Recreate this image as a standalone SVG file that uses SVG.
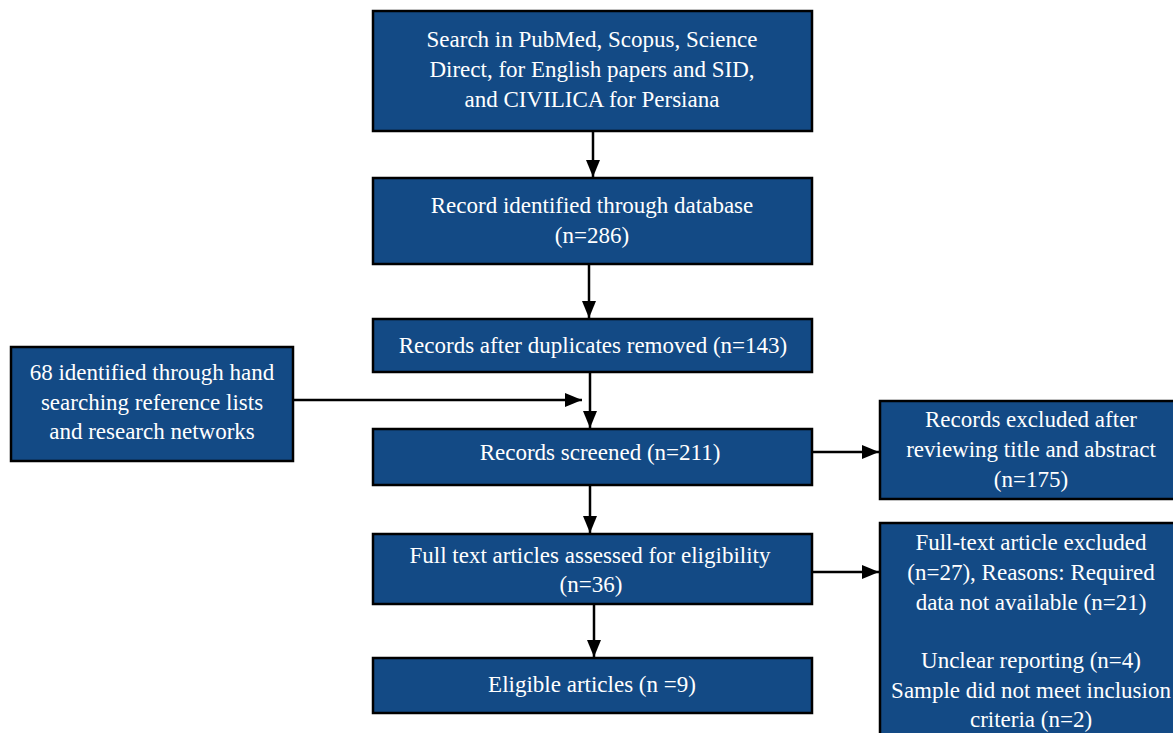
<svg xmlns="http://www.w3.org/2000/svg" width="1173" height="733" viewBox="0 0 1173 733">
<defs>
<style>
.box{fill:#134a85;stroke:#000;stroke-width:2.5}
.t{font-family:"Liberation Serif","Times New Roman",serif;font-size:23px;fill:#fff;text-anchor:middle}
.c{stroke:#000;stroke-width:2.5;fill:none}
</style>
<marker id="ah" viewBox="0 0 17 14" refX="17" refY="7" markerWidth="17" markerHeight="14" markerUnits="userSpaceOnUse" orient="auto">
<path d="M0,0 L17,7 L0,14 Z" fill="#000"/>
</marker>
</defs>
<rect width="1173" height="733" fill="#fff"/>
<g id="connectors">
<line class="c" x1="593" y1="131" x2="593" y2="177" marker-end="url(#ah)"/>
<line class="c" x1="589" y1="264" x2="589" y2="318" marker-end="url(#ah)"/>
<line class="c" x1="590" y1="372" x2="590" y2="428" marker-end="url(#ah)"/>
<line class="c" x1="293" y1="400" x2="582" y2="400" marker-end="url(#ah)"/>
<line class="c" x1="812" y1="452" x2="879" y2="452" marker-end="url(#ah)"/>
<line class="c" x1="590" y1="485" x2="590" y2="533" marker-end="url(#ah)"/>
<line class="c" x1="812" y1="572" x2="879" y2="572" marker-end="url(#ah)"/>
<line class="c" x1="594" y1="604" x2="594" y2="657" marker-end="url(#ah)"/>
</g>
<g id="n1">
<rect class="box" x="373" y="11" width="439" height="120"/>
<text class="t" x="592" y="47">Search in PubMed, Scopus, Science</text>
<text class="t" x="592" y="77">Direct, for English papers and SID,</text>
<text class="t" x="592" y="107">and CIVILICA for Persiana</text>
</g>
<g id="n2">
<rect class="box" x="373" y="178" width="439" height="86"/>
<text class="t" x="592" y="213">Record identified through database</text>
<text class="t" x="592" y="243">(n=286)</text>
</g>
<g id="n3">
<rect class="box" x="373" y="319" width="439" height="53"/>
<text class="t" x="593" y="353">Records after duplicates removed (n=143)</text>
</g>
<g id="n_hand">
<rect class="box" x="11" y="347" width="282" height="114"/>
<text class="t" x="152" y="380">68 identified through hand</text>
<text class="t" x="152" y="410">searching reference lists</text>
<text class="t" x="152" y="439">and research networks</text>
</g>
<g id="n4">
<rect class="box" x="373" y="429" width="439" height="56"/>
<text class="t" x="600" y="460">Records screened (n=211)</text>
</g>
<g id="n_excl1">
<rect class="box" x="880" y="401" width="320" height="98"/>
<text class="t" x="1031" y="427">Records excluded after</text>
<text class="t" x="1031" y="457">reviewing title and abstract</text>
<text class="t" x="1031" y="487">(n=175)</text>
</g>
<g id="n5">
<rect class="box" x="373" y="534" width="439" height="70"/>
<text class="t" x="590" y="563">Full text articles assessed for eligibility</text>
<text class="t" x="591" y="592">(n=36)</text>
</g>
<g id="n_excl2">
<rect class="box" x="880" y="523" width="320" height="240"/>
<text class="t" x="1031" y="550">Full-text article excluded</text>
<text class="t" x="1031" y="580">(n=27), Reasons: Required</text>
<text class="t" x="1031" y="610">data not available (n=21)</text>
<text class="t" x="1031" y="668">Unclear reporting (n=4)</text>
<text class="t" x="1031" y="698">Sample did not meet inclusion</text>
<text class="t" x="1031" y="727">criteria (n=2)</text>
</g>
<g id="n6">
<rect class="box" x="373" y="658" width="439" height="55"/>
<text class="t" x="592" y="692">Eligible articles (n =9)</text>
</g>
</svg>
